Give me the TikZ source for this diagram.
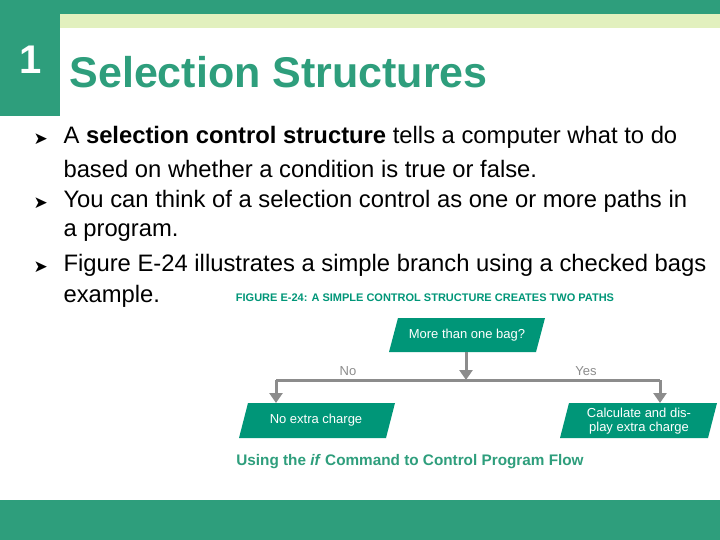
\documentclass[tikz,border=0pt]{standalone}
\usepackage{fontspec}
\setmainfont{Liberation Sans}
\newfontfamily\djvfont{DejaVu Sans}
\usetikzlibrary{arrows.meta}
\definecolor{tg}{RGB}{46,158,124}
\definecolor{lg}{RGB}{226,240,190}
\definecolor{fg}{RGB}{0,150,120}
\definecolor{ag}{RGB}{140,140,140}
\tikzset{
 bul/.style={anchor=west,font=\djvfont\fontsize{17}{20}\selectfont},
 txt/.style={anchor=west,font=\fontsize{23.8}{28}\selectfont},
 box/.style={fill=fg},
 btxt/.style={text=white,font=\fontsize{13}{14.5}\selectfont,align=center},
 conn/.style={draw=ag,line width=3pt},
 arr/.style={conn,-{Triangle[length=10pt,width=13pt]}},
}
\begin{document}
\begin{tikzpicture}[x=1pt,y=-1pt]
\useasboundingbox (0,0) rectangle (720,540);
\fill[white] (0,0) rectangle (720,540);
\fill[tg] (0,0) rectangle (720,14);
\fill[lg] (60,14) rectangle (720,28);
\fill[tg] (0,0) rectangle (60,116);
\fill[tg] (0,500) rectangle (720,540);
\node[text=white,font=\bfseries\fontsize{40}{42}\selectfont] (num) at (31,60) {1};
\node[anchor=west,text=tg,font=\bfseries\fontsize{43}{46}\selectfont] (title) at (66,72) {Selection Structures};
\foreach \y in {139,203,267} \node[bul] at (30,\y) {➤};
\node[txt] (l1) at (60,137) {A \textbf{selection control structure} tells a computer what to do};
\node[txt] (l2) at (60,169) {based on whether a condition is true or false.};
\node[txt] (l3) at (60,201) {You can think of a selection control as one or more paths in};
\node[txt] (l4) at (60,233) {a program.};
\node[txt] (l5) at (60,265) {Figure E-24 illustrates a simple branch using a checked bags};
\node[txt] (l6) at (60,296) {example.};
\node[text=fg,font=\bfseries\fontsize{11}{13}\selectfont] (cap) at (425,298) {FIGURE E-24: A SIMPLE CONTROL STRUCTURE CREATES TWO PATHS};
\fill[box] (398,318) -- (545,318) -- (536,352) -- (389,352) -- cycle;
\fill[box] (248,403) -- (395,403) -- (386,438) -- (239,438) -- cycle;
\fill[box] (569,403) -- (717,403) -- (708,438) -- (560,438) -- cycle;
\node[btxt] (q) at (467,335) {More than one bag?};
\node[btxt] (no) at (316,420) {No extra charge};
\node[btxt] (yes) at (639,421) {Calculate and dis-\\play extra charge};
\coordinate (qb) at (466,352);
\coordinate (mid) at (466,380);
\coordinate (lc) at (276,380);
\coordinate (rc) at (660,380);
\coordinate (lt) at (276,403);
\coordinate (rt) at (660,403);
\draw[arr] (qb) -- (mid);
\draw[conn] (lc) -- (rc);
\draw[arr] (lc) -- (lt);
\draw[arr] (rc) -- (rt);
\node[text=ag,font=\fontsize{13}{15}\selectfont] (nol) at (348,371) {No};
\node[text=ag,font=\fontsize{13}{15}\selectfont] (yesl) at (586,371) {Yes};
\node[text=tg,font=\bfseries\fontsize{15.3}{18}\selectfont] (foot) at (410,462) {Using the \textit{if} Command to Control Program Flow};
\end{tikzpicture}
\end{document}
